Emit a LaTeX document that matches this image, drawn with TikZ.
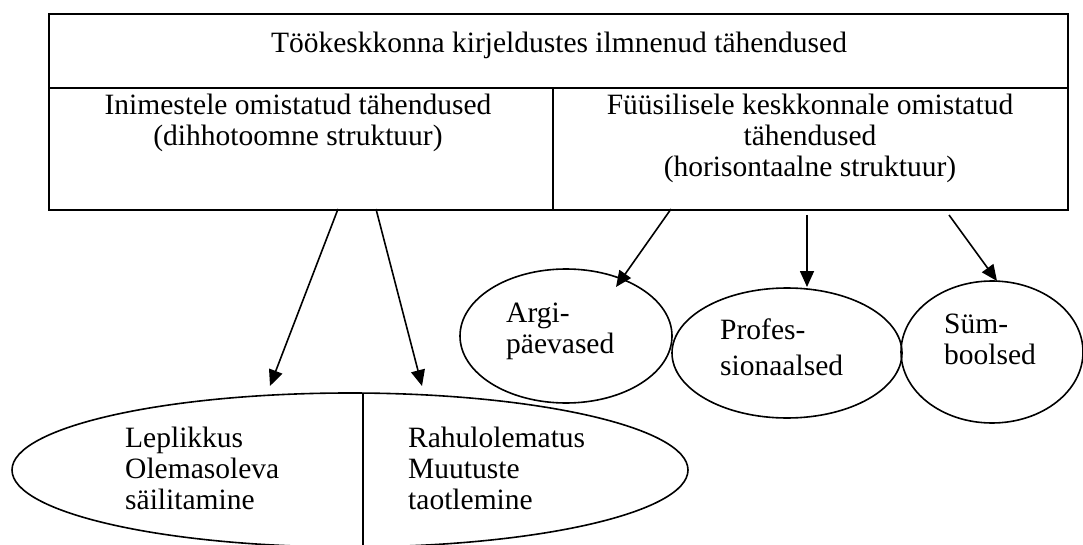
\documentclass[tikz,border=0pt]{standalone}
\usepackage{fontspec}
\setmainfont{Liberation Serif}
\usetikzlibrary{arrows.meta,shapes.geometric}
\begin{document}
\begin{tikzpicture}[x=1pt,y=-1pt,
  boxcell/.style={draw,line width=1.8pt,rectangle,inner sep=0,anchor=north west},
  oval/.style={draw,line width=1.6pt,ellipse,inner sep=0},
  txt/.style={font=\fontsize{29.5}{31}\selectfont,inner sep=0},
  conn/.style={line width=1.6pt,-{Triangle[length=16pt,width=14pt]}}]
\clip (0,0) rectangle (1083,545);
\fill[white] (0,0) rectangle (1083,545);
% boxes
\node[boxcell,minimum width=1019pt,minimum height=74pt] (title) at (48,13) {};
\node[boxcell,minimum width=504pt,minimum height=122pt] (left) at (48,87) {};
\node[boxcell,minimum width=515pt,minimum height=122pt] (right) at (552,87) {};
\node[txt,anchor=base] (titletxt) at (559,53) {Töökeskkonna kirjeldustes ilmnenud tähendused};
\node[txt,anchor=base] (lefttxt) at (298,115) {\begin{tabular}[t]{@{}c@{}}Inimestele omistatud tähendused\\(dihhotoomne struktuur)\end{tabular}};
\node[txt,anchor=base] (righttxt) at (810,115) {\begin{tabular}[t]{@{}c@{}}Füüsilisele keskkonnale omistatud\\tähendused\\(horisontaalne struktuur)\end{tabular}};
% ellipses
\node[oval,minimum width=212pt,minimum height=134pt] (argi) at (566,336) {};
\node[oval,minimum width=230pt,minimum height=130pt] (prof) at (787,353) {};
\node[oval,minimum width=182pt,minimum height=142pt] (sym) at (992,352) {};
\node[oval,minimum width=676pt,minimum height=154pt] (bot) at (350,470) {};
\coordinate (divtop) at (363,393);
\coordinate (divbot) at (363,548);
\draw[line width=1.6pt] (divtop) -- (divbot);
% ellipse texts
\node[txt,anchor=base west] (argitxt) at (506,322) {\begin{tabular}[t]{@{}l@{}}Argi-\\päevased\end{tabular}};
\node[txt,anchor=base west] (proftxt) at (720,339) {\begin{tabular}[t]{@{}l@{}}Profes-\\[5pt]sionaalsed\end{tabular}};
\node[txt,anchor=base west] (symtxt) at (944,333) {\begin{tabular}[t]{@{}l@{}}Süm-\\boolsed\end{tabular}};
\node[txt,anchor=base west] (lepltxt) at (125,447) {\begin{tabular}[t]{@{}l@{}}Leplikkus\\Olemasoleva\\säilitamine\end{tabular}};
\node[txt,anchor=base west] (rahutxt) at (408,447) {\begin{tabular}[t]{@{}l@{}}Rahulolematus\\Muutuste\\taotlemine\end{tabular}};
% arrow endpoints
\coordinate (s1) at (338,209);
\coordinate (e1) at (270,386);
\coordinate (s2) at (376,209);
\coordinate (e2) at (422,386);
\coordinate (s3) at (671,209);
\coordinate (e3) at (616,287);
\coordinate (s4) at (807,215);
\coordinate (e4) at (807,287);
\coordinate (s5) at (949,215);
\coordinate (e5) at (997,281);
\draw[conn] (s1) -- (e1);
\draw[conn] (s2) -- (e2);
\draw[conn] (s3) -- (e3);
\draw[conn] (s4) -- (e4);
\draw[conn] (s5) -- (e5);
\end{tikzpicture}
\end{document}
